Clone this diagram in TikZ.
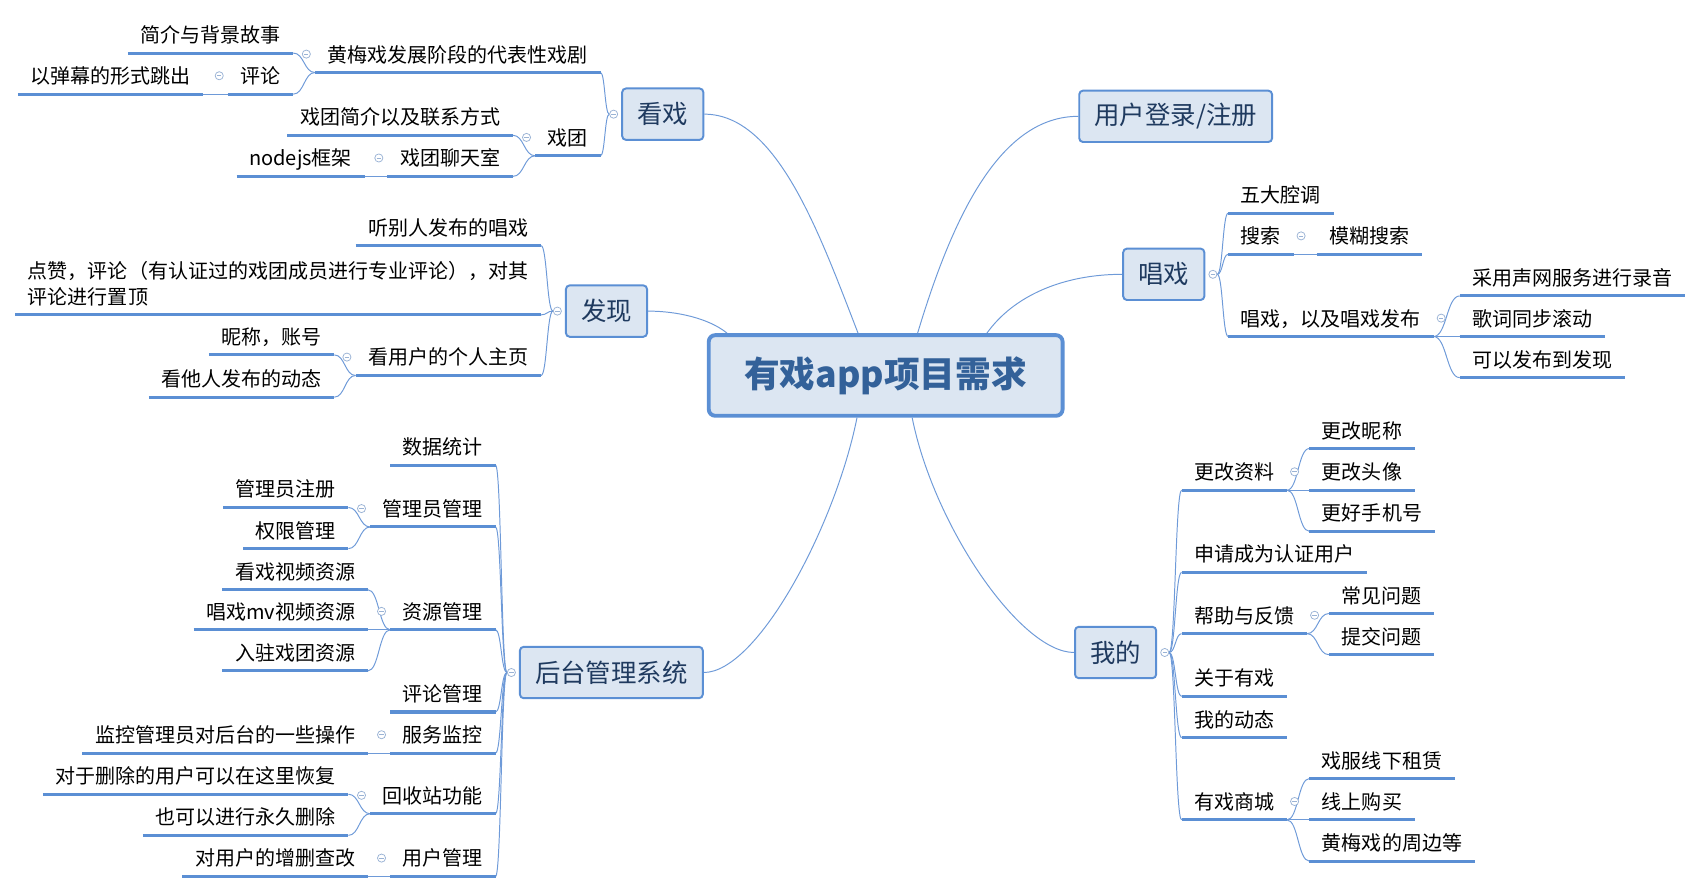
\documentclass[tikz,border=0pt]{standalone}
\usepackage{fontspec}
\setmainfont{Noto Sans CJK SC}
\usetikzlibrary{calc}
\definecolor{lineblue}{HTML}{5B8FD4}
\definecolor{thinblue}{HTML}{6E9AD8}
\definecolor{boxfill}{HTML}{DCE6F2}
\definecolor{navy}{HTML}{1F3A5F}
\definecolor{cenblue}{HTML}{336199}
\definecolor{btncol}{HTML}{9AB3D5}
\newcommand\myfsub{\fontsize{18.5pt}{24pt}\selectfont}
\newcommand\myfmain{\fontsize{23.5pt}{28pt}\selectfont}
\newcommand\myfcen{\fontsize{33pt}{40pt}\selectfont\bfseries}
\pgfdeclarelayer{bg}
\pgfsetlayers{bg,main}
\tikzset{
  ul/.style={draw=lineblue, line width=2.8pt},
  conn/.style={draw=thinblue, line width=0.9pt},
  brc/.style={conn, to path={let \p1=(\tikztostart), \p2=(\tikztotarget), \p3=($(\p1)!0.5!(\p2)$) in .. controls (\x3,\y1) and (\x3,\y2) .. (\tikztotarget)}},
  lsub/.style={font=\myfsub, text=black, inner xsep=11.5pt, inner ysep=0pt, text depth=9.5pt, anchor=south east},
  rsub/.style={font=\myfsub, text=black, inner xsep=11.5pt, inner ysep=0pt, text depth=9.5pt, anchor=south west},
  mbox/.style={draw=lineblue, fill=boxfill, line width=1.8pt, rounded corners=3.5pt, minimum height=47.5pt, inner xsep=14pt, font=\myfmain, text=navy},
  cbox/.style={draw=lineblue, fill=boxfill, line width=3.6pt, rounded corners=6pt, minimum width=327pt, minimum height=74.5pt, font=\myfcen, text=cenblue},
  btn/.style={circle, draw=btncol, fill=white, line width=0.7pt, inner sep=0pt, minimum size=7.5pt,
    path picture={\draw[btncol, line width=0.7pt] ([xshift=-2pt]path picture bounding box.center) -- ([xshift=2pt]path picture bounding box.center);}}
}
\begin{document}
\begin{tikzpicture}[x=1pt,y=-1pt]
\useasboundingbox (0,0) rectangle (1560,825.3);
% central and main topics
\node[cbox] (root) at (818.5,347) {有戏app项目需求};
\node[mbox] (kx) at (612.5,105.5) {看戏};
\node[mbox] (fx) at (560.5,287.5) {发现};
\node[mbox] (ht) at (565,621.5) {后台管理系统};
\node[mbox] (yh) at (1086.5,107.5) {用户登录/注册};
\node[mbox] (cx) at (1075.5,253.5) {唱戏};
\node[mbox] (wd) at (1031,603) {我的};
% left: 看戏
\node[lsub] (hm) at (555,67) {黄梅戏发展阶段的代表性戏剧};
\node[lsub] (jj) at (271,49) {简介与背景故事};
\node[lsub] (pl) at (271,87) {评论};
\node[lsub] (dm) at (188,87) {以弹幕的形式跳出};
\node[lsub] (xt) at (555,144) {戏团};
\node[lsub] (xj) at (474,125) {戏团简介以及联系方式};
\node[lsub] (lt) at (474,163) {戏团聊天室};
\node[lsub] (nj) at (337,163) {nodejs框架};
% left: 发现
\node[lsub] (tb) at (500,227) {听别人发布的唱戏};
\node[lsub, align=left] (dz) at (500,291) {点赞，评论（有认证过的戏团成员进行专业评论），对其\\评论进行置顶};
\node[lsub] (ky) at (500,347) {看用户的个人主页};
\node[lsub] (nc) at (309,328) {昵称，账号};
\node[lsub] (kt) at (309,367) {看他人发布的动态};
% left: 后台管理系统
\node[lsub] (sj) at (458,430) {数据统计};
\node[lsub] (gl) at (458,487) {管理员管理};
\node[lsub] (zc) at (322,469) {管理员注册};
\node[lsub] (qx) at (322,507) {权限管理};
\node[lsub] (zy) at (458,582) {资源管理};
\node[lsub] (kv) at (340,545) {看戏视频资源};
\node[lsub] (cm) at (340,582) {唱戏mv视频资源};
\node[lsub] (rz) at (340,620) {入驻戏团资源};
\node[lsub] (pg) at (458,658) {评论管理};
\node[lsub] (fw) at (458,696) {服务监控};
\node[lsub] (jk) at (340,696) {监控管理员对后台的一些操作};
\node[lsub] (hs) at (458,752) {回收站功能};
\node[lsub] (dy) at (322,734) {对于删除的用户可以在这里恢复};
\node[lsub] (yj) at (322,772) {也可以进行永久删除};
\node[lsub] (yg) at (458,810) {用户管理};
\node[lsub] (zs) at (340,810) {对用户的增删查改};
% right: 唱戏
\node[rsub] (wq) at (1135,197) {五大腔调};
\node[rsub] (ss) at (1135,235) {搜索};
\node[rsub] (mh) at (1217,235) {模糊搜索};
\node[rsub] (cf) at (1135,311) {唱戏，以及唱戏发布};
\node[rsub] (cy) at (1349,273.5) {采用声网服务进行录音};
\node[rsub] (gc) at (1349,311) {歌词同步滚动};
\node[rsub] (kf) at (1349,349) {可以发布到发现};
% right: 我的
\node[rsub] (gz) at (1092,453) {更改资料};
\node[rsub] (gn) at (1210,414.5) {更改昵称};
\node[rsub] (gt) at (1210,453) {更改头像};
\node[rsub] (gs) at (1210,491) {更好手机号};
\node[rsub] (sq) at (1092,529) {申请成为认证用户};
\node[rsub] (bz) at (1092,585.6) {帮助与反馈};
\node[rsub] (cw) at (1228,567) {常见问题};
\node[rsub] (tw) at (1228,605) {提交问题};
\node[rsub] (gy) at (1092,643.6) {关于有戏};
\node[rsub] (dt) at (1092,681.7) {我的动态};
\node[rsub] (sc) at (1092,757.7) {有戏商城};
\node[rsub] (zl) at (1210,719.5) {戏服线下租赁};
\node[rsub] (gm) at (1210,757.7) {线上购买};
\node[rsub] (zb) at (1210,795.8) {黄梅戏的周边等};
% underlines
\foreach \n in {hm,jj,pl,dm,xt,xj,lt,nj,tb,dz,ky,nc,kt,sj,gl,zc,qx,zy,kv,cm,rz,pg,fw,jk,hs,dy,yj,yg,zs,wq,ss,mh,cf,cy,gc,kf,gz,gn,gt,gs,sq,bz,cw,tw,gy,dt,sc,zl,gm,zb}
  \draw[ul] (\n.south west) -- (\n.south east);
% collapse buttons
\node[btn] (bkx) at ([xshift=-7pt]kx.west) {};
\node[btn] (bfx) at ([xshift=-7pt]fx.west) {};
\node[btn] (bht) at ([xshift=-7pt]ht.west) {};
\node[btn] (bcx) at ([xshift=7pt]cx.east) {};
\node[btn] (bwd) at ([xshift=7pt]wd.east) {};
\foreach \n in {hm,pl,xt,lt,ky,gl,zy,fw,hs,yg}
  \node[btn] (b\n) at ([xshift=-8pt,yshift=17pt]\n.south west) {};
\foreach \n in {ss,cf,gz,bz,sc}
  \node[btn] (b\n) at ([xshift=7pt,yshift=17pt]\n.south east) {};
% connectors
\begin{pgfonlayer}{bg}
\draw[conn] (kx.east) .. controls (718,105.5) and (757,215) .. ([xshift=-25.5pt]root.north);
\draw[conn] ([xshift=29.5pt]root.north) .. controls (881,198) and (925,107.5) .. (yh.west);
\draw[conn] ([xshift=93.5pt]root.north) .. controls (937,273) and (983,253.5) .. (cx.west);
\draw[conn] (fx.east) .. controls (625,287.5) and (655,294) .. ([xshift=-146.5pt]root.north);
\draw[conn] ([xshift=-26.5pt]root.south) .. controls (772,486) and (700,621.5) .. (ht.east);
\draw[conn] ([xshift=24.5pt]root.south) .. controls (863,486) and (943,603) .. (wd.west);
\foreach \a/\b in {bkx.west/hm.south east, bkx.west/xt.south east,
  hm.south west/jj.south east, hm.south west/pl.south east, pl.south west/dm.south east,
  xt.south west/xj.south east, xt.south west/lt.south east, lt.south west/nj.south east,
  bfx.west/tb.south east, bfx.west/dz.south east, bfx.west/ky.south east,
  ky.south west/nc.south east, ky.south west/kt.south east,
  bht.west/sj.south east, bht.west/gl.south east, bht.west/zy.south east, bht.west/pg.south east,
  bht.west/fw.south east, bht.west/hs.south east, bht.west/yg.south east,
  gl.south west/zc.south east, gl.south west/qx.south east,
  zy.south west/kv.south east, zy.south west/cm.south east, zy.south west/rz.south east,
  fw.south west/jk.south east, hs.south west/dy.south east, hs.south west/yj.south east,
  yg.south west/zs.south east,
  bcx.east/wq.south west, bcx.east/ss.south west, bcx.east/cf.south west,
  ss.south east/mh.south west, cf.south east/cy.south west, cf.south east/gc.south west,
  cf.south east/kf.south west,
  bwd.east/gz.south west, bwd.east/sq.south west, bwd.east/bz.south west,
  bwd.east/gy.south west, bwd.east/dt.south west, bwd.east/sc.south west,
  gz.south east/gn.south west, gz.south east/gt.south west, gz.south east/gs.south west,
  bz.south east/cw.south west, bz.south east/tw.south west,
  sc.south east/zl.south west, sc.south east/gm.south west, sc.south east/zb.south west}
  \draw[brc] (\a) to (\b);
\end{pgfonlayer}
\end{tikzpicture}
\end{document}
